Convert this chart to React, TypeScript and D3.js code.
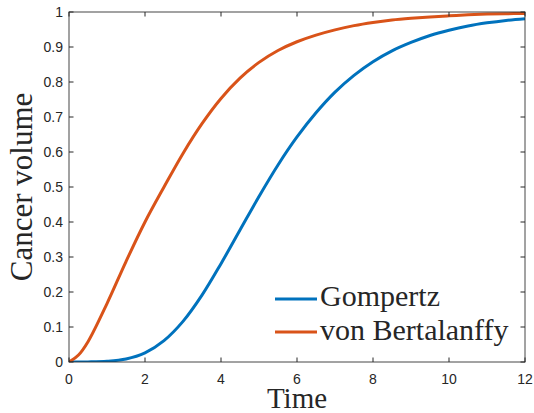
import React from "react";
import * as d3 from "d3";

const timePoints = [0, 0.25, 0.5, 1, 1.5, 2, 2.5, 3, 3.5, 4, 4.5, 5, 5.5, 6, 6.5, 7, 7.5, 8, 8.5, 9, 9.5, 10, 10.5, 11, 11.5, 12];
const gompertzV = [0, 0.0001, 0.0003, 0.0021, 0.0086, 0.026, 0.061, 0.116, 0.191, 0.281, 0.377, 0.473, 0.563, 0.643, 0.712, 0.771, 0.819, 0.858, 0.889, 0.913, 0.933, 0.948, 0.96, 0.969, 0.976, 0.981];
const bertalanffyV = [0, 0.02, 0.058, 0.167, 0.287, 0.4, 0.5, 0.596, 0.681, 0.753, 0.811, 0.856, 0.89, 0.915, 0.934, 0.949, 0.961, 0.97, 0.977, 0.982, 0.986, 0.989, 0.992, 0.994, 0.995, 0.996];

const xTicks = [0, 2, 4, 6, 8, 10, 12];
const yTicks = [0, 0.1, 0.2, 0.3, 0.4, 0.5, 0.6, 0.7, 0.8, 0.9, 1];
const seriesNames = ["Gompertz", "von Bertalanffy"];
const seriesColors = ["#0072BD", "#D95319"];

const W = 534, H = 413;
const L = 69, R = 525, T = 12, B = 362;

export default function App() {
  const x = d3.scaleLinear().domain([0, 12]).range([L, R]);
  const y = d3.scaleLinear().domain([0, 1]).range([B, T]);
  const line = d3.line<[number, number]>().x(d => x(d[0])).y(d => y(d[1])).curve(d3.curveCatmullRom.alpha(0.5));
  const series = [gompertzV, bertalanffyV].map(vals =>
    timePoints.map((t, i) => [t, vals[i]] as [number, number])
  );
  const axisColor = "#262626";
  const tickLen = 4.5;
  const serif = "'Liberation Serif', 'Times New Roman', serif";
  const sans = "'Liberation Sans', Arial, Helvetica, sans-serif";
  return (
    <svg width={W} height={H} style={{ position: "absolute", left: 0, top: 0, background: "#fff" }}>
      <rect x={0} y={0} width={W} height={H} fill="#fff" />
      <defs>
        <clipPath id="plotclip">
          <rect x={L} y={T - 2} width={R - L} height={B - T + 2} />
        </clipPath>
      </defs>
      {series.map((s, i) => (
        <path key={i} d={line(s) || ""} fill="none" stroke={seriesColors[i]} strokeWidth={3} clipPath="url(#plotclip)" />
      ))}
      <rect x={L} y={T} width={R - L} height={B - T} fill="none" stroke={axisColor} strokeWidth={1} opacity={0.85} />
      {xTicks.map(t => (
        <g key={"x" + t}>
          <line x1={x(t)} x2={x(t)} y1={B} y2={B - tickLen} stroke={axisColor} />
          <line x1={x(t)} x2={x(t)} y1={T} y2={T + tickLen} stroke={axisColor} />
          <text x={x(t)} y={384} textAnchor="middle" fontFamily={sans} fontSize={14} fill={axisColor}>{t}</text>
        </g>
      ))}
      {yTicks.map(t => (
        <g key={"y" + t}>
          <line x1={L} x2={L + tickLen} y1={y(t)} y2={y(t)} stroke={axisColor} />
          <line x1={R} x2={R - tickLen} y1={y(t)} y2={y(t)} stroke={axisColor} />
          <text x={63} y={y(t) + 5} textAnchor="end" fontFamily={sans} fontSize={14} fill={axisColor}>{String(t)}</text>
        </g>
      ))}
      <text x={297} y={408} textAnchor="middle" fontFamily={serif} fontSize={29} fill={axisColor}>Time</text>
      <text transform={`translate(32,${(T + B) / 2}) rotate(-90)`} textAnchor="middle" fontFamily={serif} fontSize={31} fill={axisColor}>Cancer volume</text>
      {seriesNames.map((n, i) => (
        <g key={n}>
          <line x1={275} x2={317} y1={299 + i * 33} y2={299 + i * 33} stroke={seriesColors[i]} strokeWidth={3} />
          <text x={320} y={306 + i * 34} fontFamily={serif} fontSize={30} fill={axisColor}>{n}</text>
        </g>
      ))}
    </svg>
  );
}
